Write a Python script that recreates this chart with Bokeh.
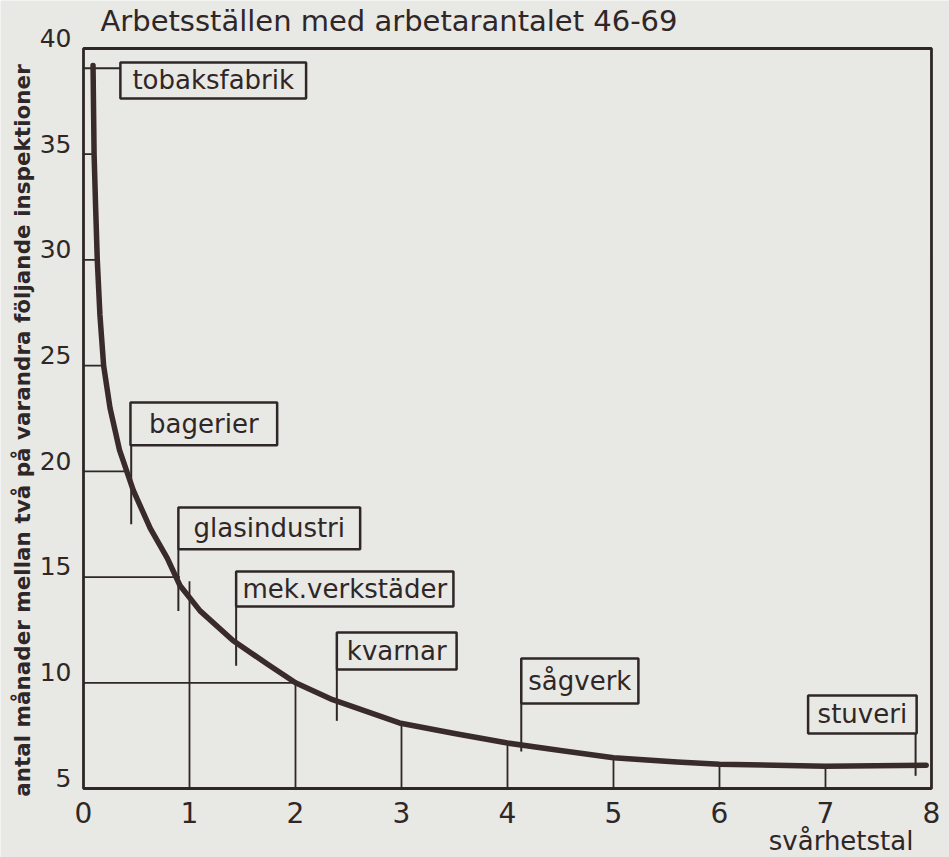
import math
from bokeh.plotting import figure
from bokeh.models import Label, FixedTicker, LinearAxis, Range1d
from bokeh.core.properties import value
from bokeh.embed import file_html
from bokeh.resources import INLINE

# ---------------- data ----------------
title_text = "Arbetsställen med arbetarantalet 46-69"
x_title = "svårhetstal"
y_title = "antal månader mellan två på varandra följande inspektioner"

x_ticks = [0, 1, 2, 3, 4, 5, 6, 7, 8]
y_ticks = [5, 10, 15, 20, 25, 30, 35, 40]

# the curve: svårhetstal -> months between inspections
curve_x = [0.09, 0.10, 0.115, 0.13, 0.155, 0.19, 0.25, 0.34, 0.47, 0.63, 0.79, 0.91,
           1.10, 1.41, 1.73, 2.00, 2.35, 2.98, 3.50, 4.00, 4.50, 5.00, 5.60, 6.00, 7.00, 7.95]
curve_y = [39.2, 35.0, 32.4, 30.0, 27.4, 25.0, 23.0, 21.0, 19.1, 17.3, 15.9, 14.6,
           13.4, 12.0, 10.9, 10.0, 9.2, 8.1, 7.6, 7.15, 6.8, 6.45, 6.25, 6.15, 6.05, 6.1]

# drop lines from the x axis up to the curve
drop_x = [1, 2, 3, 4, 5, 6, 7]
drop_top = [14.8, 10.0, 8.0, 7.05, 6.35, 6.15, 6.05]

# horizontal lines from the y axis to the curve
hline_y = [35, 30, 25, 20, 15, 10]
hline_end = [0.10, 0.13, 0.19, 0.40, 0.91, 1.98]

# industries and where their leaders touch the curve
industries = ["tobaksfabrik", "bagerier", "glasindustri", "mek.verkstäder",
              "kvarnar", "sågverk", "stuveri"]
ind_x = [0.09, 0.45, 0.895, 1.44, 2.39, 4.13, 7.85]
ind_y = [39.06, 17.5, 13.4, 10.8, 8.2, 6.75, 5.6]

# ---------------- layout of the label boxes (data units) ----------------
box_left = [0.348, 0.443, 0.895, 1.44, 2.39, 4.13, 6.836]
box_right = [2.10, 1.827, 2.61, 3.49, 3.52, 5.235, 7.86]
box_bottom = [37.64, 21.23, 16.31, 13.61, 10.63, 9.02, 7.60]
box_top = [39.34, 23.26, 18.29, 15.26, 12.38, 11.15, 9.40]

INK = "#2f2727"
BG = "#e8e8e4"
FONT = "DejaVu Sans"

Y0, Y1 = 1.736, 42.27
LABEL_LIFT = 0.5  # y tick labels sit just above their ticks

# the plotting frame covers the whole canvas; the axes are pinned at x=0 / y=5
p = figure(width=949, height=857, x_range=(-0.783, 8.170), y_range=(Y0, Y1),
           output_backend="svg", toolbar_location=None,
           min_border_left=0, min_border_right=0, min_border_top=0, min_border_bottom=0)
p.background_fill_color = BG
p.border_fill_color = BG
p.outline_line_color = None
p.grid.visible = False

p.xaxis.fixed_location = y_ticks[0]
p.xaxis.bounds = (x_ticks[0], x_ticks[-1])
p.xaxis.ticker = FixedTicker(ticks=x_ticks)
p.xaxis.axis_line_color = None
p.xaxis.major_tick_line_color = None
p.xaxis.minor_tick_line_color = None
p.xaxis.major_label_standoff = 8
p.xaxis.major_label_text_font = FONT
p.xaxis.major_label_text_font_size = "28px"
p.xaxis.major_label_text_color = INK

p.yaxis.visible = False
p.extra_y_ranges = {"lab": Range1d(Y0 - LABEL_LIFT, Y1 - LABEL_LIFT)}
yax = LinearAxis(y_range_name="lab", fixed_location=x_ticks[0],
                 bounds=(y_ticks[0], y_ticks[-1]), ticker=FixedTicker(ticks=y_ticks),
                 axis_line_color=None, major_tick_line_color=None,
                 minor_tick_line_color=None, major_label_standoff=6,
                 major_label_text_font=FONT, major_label_text_font_size="25px",
                 major_label_text_color=INK)
p.add_layout(yax, "left")

# the chart's box
p.quad(left=[x_ticks[0]], right=[x_ticks[-1]], bottom=[y_ticks[0]], top=[y_ticks[-1]],
       fill_color=None, line_color=INK, line_width=2.8)

# drop lines & horizontal lines
p.segment(x0=drop_x, y0=[y_ticks[0]] * len(drop_x), x1=drop_x, y1=drop_top,
          line_color=INK, line_width=1.8)
p.segment(x0=[x_ticks[0]] * len(hline_y), y0=hline_y, x1=hline_end, y1=hline_y,
          line_color=INK, line_width=1.8)

# leaders
lead_x0, lead_y0, lead_x1, lead_y1 = [], [], [], []
for i in range(len(industries)):
    if i == 0:
        lead_x0.append(x_ticks[0]); lead_y0.append(ind_y[i]); lead_x1.append(box_left[i]); lead_y1.append(ind_y[i])
    else:
        lead_x0.append(ind_x[i]); lead_y0.append(box_bottom[i]); lead_x1.append(ind_x[i]); lead_y1.append(ind_y[i])
p.segment(x0=lead_x0, y0=lead_y0, x1=lead_x1, y1=lead_y1, line_color=INK, line_width=2)

# curve
p.line(curve_x, curve_y, line_color="#3a2b2b", line_width=5.5, line_join="round", line_cap="round")

# label boxes
p.quad(left=box_left, right=box_right, bottom=box_bottom, top=box_top,
       fill_color=BG, line_color=INK, line_width=2.5)
p.text(x=[(a + b) / 2 for a, b in zip(box_left, box_right)],
       y=[(a + b) / 2 for a, b in zip(box_bottom, box_top)],
       text=industries, text_align="center", text_baseline="middle",
       text_font=value(FONT), text_font_size="26px", text_color=INK)

# titles
p.add_layout(Label(x=0.16, y=41.32, text=title_text, text_align="left",
                   text_baseline="middle", text_font=FONT,
                   text_font_size="29px", text_color=INK))
p.add_layout(Label(x=7.83, y=2.54, text=x_title, text_align="right",
                   text_baseline="middle", text_font=FONT,
                   text_font_size="26px", text_color=INK))
p.add_layout(Label(x=-0.575, y=21.93, text=y_title, angle=math.pi / 2,
                   text_align="center", text_baseline="middle", text_font=FONT,
                   text_font_size="21.5px", text_font_style="bold", text_color=INK))

open("out.html", "w").write(file_html(p, INLINE))
